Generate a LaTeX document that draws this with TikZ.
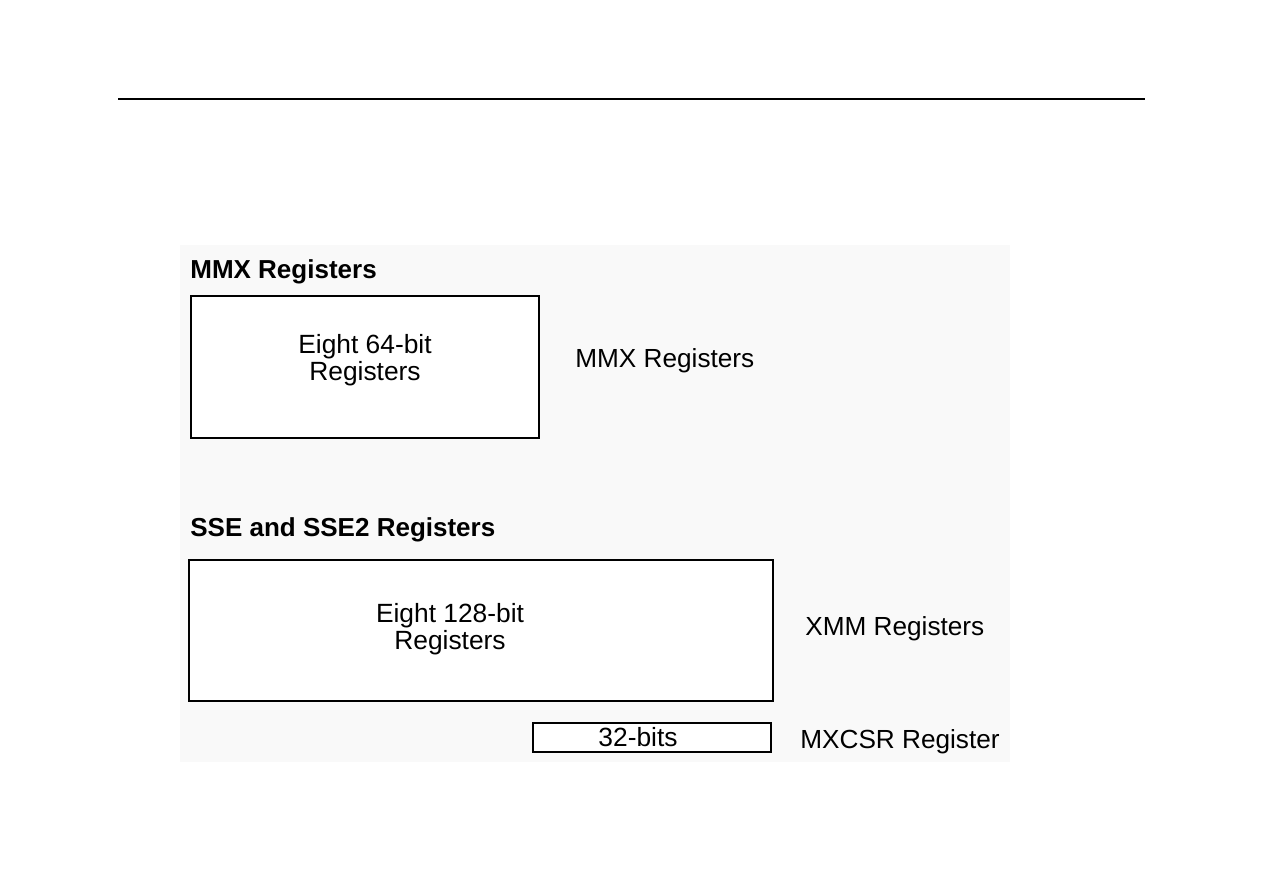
\documentclass[tikz,border=0pt]{standalone}
\usepackage{fontspec}
\setmainfont{Liberation Sans}
\begin{document}
\begin{tikzpicture}[x=0.02cm,y=-0.02cm,
  regbox/.style={draw=black,line width=1.5pt,fill=white},
  body/.style={font=\fontsize{15pt}{15.5pt}\selectfont,align=center,inner sep=0pt},
  title/.style={font=\bfseries\fontsize{14.8pt}{16pt}\selectfont,anchor=west,inner sep=0pt},
  side/.style={font=\fontsize{14.9pt}{16pt}\selectfont,anchor=west,inner sep=0pt}]
\useasboundingbox (0,0) rectangle (1263,893);
\fill[white] (0,0) rectangle (1263,893);
\draw[line width=0.9pt] (118,99) coordinate (la) -- (1145,99) coordinate (lb);
\fill[black!2.5] (180,245) rectangle (1010,762);
% MMX
\node[title] (t1) at (190,272) {MMX Registers};
\draw[regbox] (191,296) rectangle (539,438);
\node[body] (b1) at (365,360) {Eight 64-bit\\Registers};
\node[side] (s1) at (575,361) {MMX Registers};
% SSE
\node[title] (t2) at (190,530) {SSE and SSE2 Registers};
\draw[regbox] (189,560) rectangle (773,701);
\node[body] (b2) at (450,629) {Eight 128-bit\\Registers};
\node[side] (s2) at (805,629) {XMM Registers};
\draw[regbox,line width=1.3pt] (533,723) rectangle (771,752);
\node[body] (b3) at (638,737.5) {32-bits};
\node[side] (s3) at (800,742) {MXCSR Register};
\end{tikzpicture}
\end{document}
